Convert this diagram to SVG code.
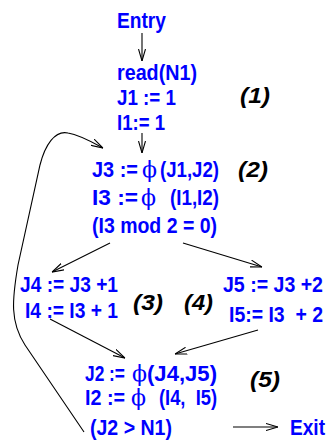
<svg xmlns="http://www.w3.org/2000/svg" width="331" height="443" viewBox="0 0 331 443">
<style>
.t{font-family:"Liberation Sans",Arial,sans-serif;font-weight:bold;font-size:21.5px;fill:#0000ff;white-space:pre}
.phi{font-family:"DejaVu Serif","Liberation Serif",serif;font-weight:normal;font-size:22px;fill:#0000ff}
.n{font-family:"Liberation Sans",Arial,sans-serif;font-weight:bold;font-style:italic;font-size:21.5px;fill:#000}
.c{fill:none;stroke:#000;stroke-width:1.1}
</style>
<defs>
<marker id="a" viewBox="0 0 12 8" refX="12" refY="4" markerWidth="12" markerHeight="8" markerUnits="userSpaceOnUse" orient="auto">
<path d="M0,0.5 L12,4 L0,7.5" fill="none" stroke="#000" stroke-width="1.1"/>
</marker>
</defs>
<g id="connectors">
<path class="c" d="M142,33 L142,61" marker-end="url(#a)"/>
<path class="c" d="M142,133 L142,153" marker-end="url(#a)"/>
<path class="c" d="M110,243 L52,272" marker-end="url(#a)"/>
<path class="c" d="M183,243 L262,267" marker-end="url(#a)"/>
<path class="c" d="M50,319 L125,358" marker-end="url(#a)"/>
<path class="c" d="M258,330 L175,354" marker-end="url(#a)"/>
<path class="c" d="M233,427 L278,427" marker-end="url(#a)"/>
<path class="c" d="M84,432 L25,345 C10,322 12,300 18,265 L40,165 C45,145 55,130 68,133 C80,135 92,142 103,148" marker-end="url(#a)"/>
</g>
<g id="entry"><text class="t" x="117" y="28" textLength="49" lengthAdjust="spacingAndGlyphs">Entry</text></g>
<g id="n1">
<text class="t" x="117" y="80" textLength="80" lengthAdjust="spacingAndGlyphs">read(N1)</text>
<text class="t" x="117" y="105" textLength="59" lengthAdjust="spacingAndGlyphs">J1 := 1</text>
<text class="t" x="117" y="130" textLength="48" lengthAdjust="spacingAndGlyphs">I1:= 1</text>
<text class="n" x="240" y="103" textLength="30" lengthAdjust="spacingAndGlyphs">(1)</text>
</g>
<g id="n2">
<text class="t" x="92" y="177" textLength="46" lengthAdjust="spacingAndGlyphs">J3 :=</text><text class="phi" x="142" y="177">ϕ</text><text class="t" x="160" y="177" textLength="59" lengthAdjust="spacingAndGlyphs">(J1,J2)</text>
<text class="t" x="92" y="205" textLength="46" lengthAdjust="spacingAndGlyphs">I3 :=</text><text class="phi" x="141" y="205">ϕ</text><text class="t" x="170" y="205" textLength="49" lengthAdjust="spacingAndGlyphs">(I1,I2)</text>
<text class="t" x="92" y="233" textLength="125" lengthAdjust="spacingAndGlyphs">(I3 mod 2 = 0)</text>
<text class="n" x="238" y="177" textLength="30" lengthAdjust="spacingAndGlyphs">(2)</text>
</g>
<g id="n3">
<text class="t" x="20" y="292" textLength="98" lengthAdjust="spacingAndGlyphs">J4 := J3 +1</text>
<text class="t" x="25" y="318" textLength="93" lengthAdjust="spacingAndGlyphs">I4 := I3 + 1</text>
<text class="n" x="133" y="310" textLength="30" lengthAdjust="spacingAndGlyphs">(3)</text>
</g>
<g id="n4">
<text class="t" x="223" y="292" textLength="100" lengthAdjust="spacingAndGlyphs">J5 := J3 +2</text>
<text class="t" x="229" y="322" textLength="94" lengthAdjust="spacingAndGlyphs">I5:= I3  + 2</text>
<text class="n" x="184" y="310" textLength="29" lengthAdjust="spacingAndGlyphs">(4)</text>
</g>
<g id="n5">
<text class="t" x="85" y="381" textLength="40" lengthAdjust="spacingAndGlyphs">J2 :=</text><text class="phi" x="132" y="381">ϕ</text><text class="t" x="147" y="381" textLength="70" lengthAdjust="spacingAndGlyphs">(J4,J5)</text>
<text class="t" x="85" y="405" textLength="40" lengthAdjust="spacingAndGlyphs">I2 :=</text><text class="phi" x="131" y="405">ϕ</text><text class="t" x="159" y="405" textLength="58" lengthAdjust="spacingAndGlyphs">(I4,  I5)</text>
<text class="t" x="90" y="435" textLength="82" lengthAdjust="spacingAndGlyphs">(J2 &gt; N1)</text>
<text class="n" x="250" y="387" textLength="30" lengthAdjust="spacingAndGlyphs">(5)</text>
</g>
<g id="exit"><text class="t" x="290" y="435" textLength="35" lengthAdjust="spacingAndGlyphs">Exit</text></g>
</svg>
